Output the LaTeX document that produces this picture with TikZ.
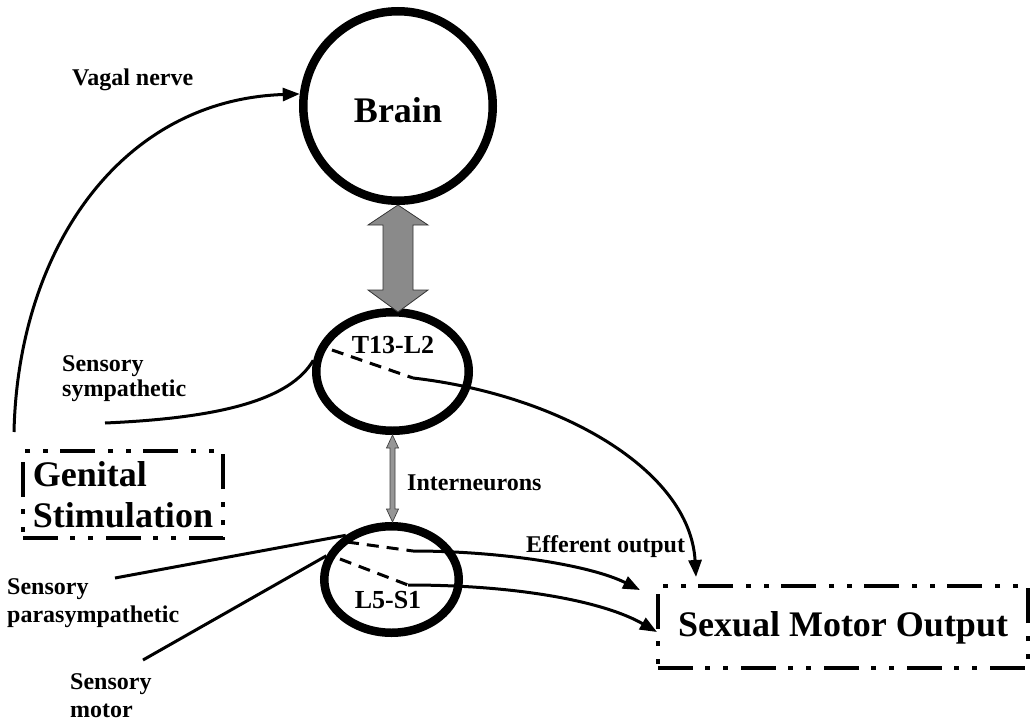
\documentclass[tikz,border=0pt]{standalone}
\usepackage{fontspec}
\setmainfont{Liberation Serif}
\usetikzlibrary{arrows.meta,shapes.geometric,calc}
\definecolor{agray}{RGB}{138,138,138}
\definecolor{sgray}{RGB}{150,150,150}
\begin{document}
\begin{tikzpicture}[x=1pt,y=-1pt,
  ring/.style={draw, line width=8.5pt, inner sep=0pt, outer sep=4.25pt},
  conn/.style={line width=3pt},
  arr/.style={conn, -{Triangle[length=17pt,width=13pt]}},
  dashin/.style={line width=3pt, dash pattern=on 12pt off 8pt},
  dashbox/.style={draw, line width=3.8pt, dash pattern=on 35pt off 12pt on 5pt off 13pt on 5pt off 13pt, inner sep=0pt},
  big/.style={font=\bfseries\fontsize{36}{41}\selectfont},
  mid/.style={font=\bfseries\fontsize{26}{30}\selectfont},
  lbl/.style={font=\bfseries\fontsize{24}{#1}\selectfont, align=left, inner sep=0pt},
  lbl/.default=26,
  bigarrow/.style={fill=agray, draw=black!80, line width=0.8pt, line join=miter},
  smallarrow/.style={fill=sgray, draw=black!75, line width=0.7pt, line join=miter},
]
\fill[white] (0,0) rectangle (1031,723);
\useasboundingbox (0,0) rectangle (1031,723);

% main nodes
\node[ring, circle, minimum size=189.5pt, big, text height=32pt, text depth=0pt] (brain) at (398,106) {Brain};
\node[ring, ellipse, minimum width=152.5pt, minimum height=118.5pt] (t13) at (392.5,371.5) {};
\node[ring, ellipse, minimum width=134.5pt, minimum height=106.5pt] (l5) at (391.5,579.5) {};
\node[dashbox, minimum width=370pt, minimum height=82pt, big, text height=24pt, text depth=6pt] (smo) at (843,627) {Sexual Motor Output};
\node[dashbox, line width=3.4pt, minimum width=200pt, minimum height=87pt, big, align=left] (gen) at (123,494.5) {Genital\\Stimulation};

% labels
\node[lbl, anchor=base west] (vag) at (72,85) {Vagal nerve};
\node[mid, anchor=base] (t13l) at (393,353) {T13-L2};
\node[mid, anchor=base] (l5l) at (388,608) {L5-S1};
\node[lbl, anchor=base west] (intl) at (407,490) {Interneurons};
\node[lbl, anchor=base west] (effl) at (526,552) {Efferent output};
\node[lbl=25, anchor=north west] (ssyl) at (62,355.5) {Sensory\\sympathetic};
\node[lbl=28, anchor=north west] (spal) at (7,578.5) {Sensory\\parasympathetic};
\node[lbl=28, anchor=north west] (smtl) at (70,673.5) {Sensory\\motor};

% coordinates
\coordinate (vs) at (14,432);
\coordinate (ssy) at (105,423);
\coordinate (spa) at (115,578);
\coordinate (smt) at (143,660);
\coordinate (ta) at (332,350);
\coordinate (tb) at (413,378);
\coordinate (la) at (347,542);
\coordinate (lb) at (413,551);
\coordinate (lc) at (340,559);
\coordinate (ld) at (408,585);
\coordinate (tc) at (696,577);
\coordinate (e1) at (640,590);
\coordinate (e2) at (657,632);

% big gray double arrow brain <-> T13
\draw[bigarrow] (brain.south) -- ++(30,20) -- ++(-15,0) -- ++(0,65) -- ++(15,0)
  -- ++(-30,22) -- ++(-30,-22) -- ++(15,0) -- ++(0,-65) -- ++(-15,0) -- cycle;
% interneurons arrow T13 <-> L5
\draw[smallarrow] (t13.south) -- ++(6,13) -- ++(-3.5,0) -- ++(0,61) -- ++(3.5,0)
  -- ++(-6,13) -- ++(-6,-13) -- ++(3.5,0) -- ++(0,-61) -- ++(-3.5,0) -- cycle;

% vagal nerve
\draw[arr] (vs) .. controls (18,250) and (120,100) .. (brain.173);
% sensory inputs
\draw[conn] (ssy) .. controls (220,418) and (290,400) .. (t13.172);
\draw[conn] (spa) -- (l5.136);
\draw[conn] (smt) -- (l5.160);

% internal dashed paths
\draw[dashin] (ta) -- (tb);
\draw[dashin] (la) -- (lb);
\draw[dashin] (lc) -- (ld);

% efferent outputs
\draw[arr] (tb) .. controls (560,395) and (690,470) .. (tc);
\draw[arr] (lb) .. controls (500,551) and (590,565) .. (e1);
\draw[arr] (ld) .. controls (520,585) and (605,602) .. (e2);
\end{tikzpicture}
\end{document}
